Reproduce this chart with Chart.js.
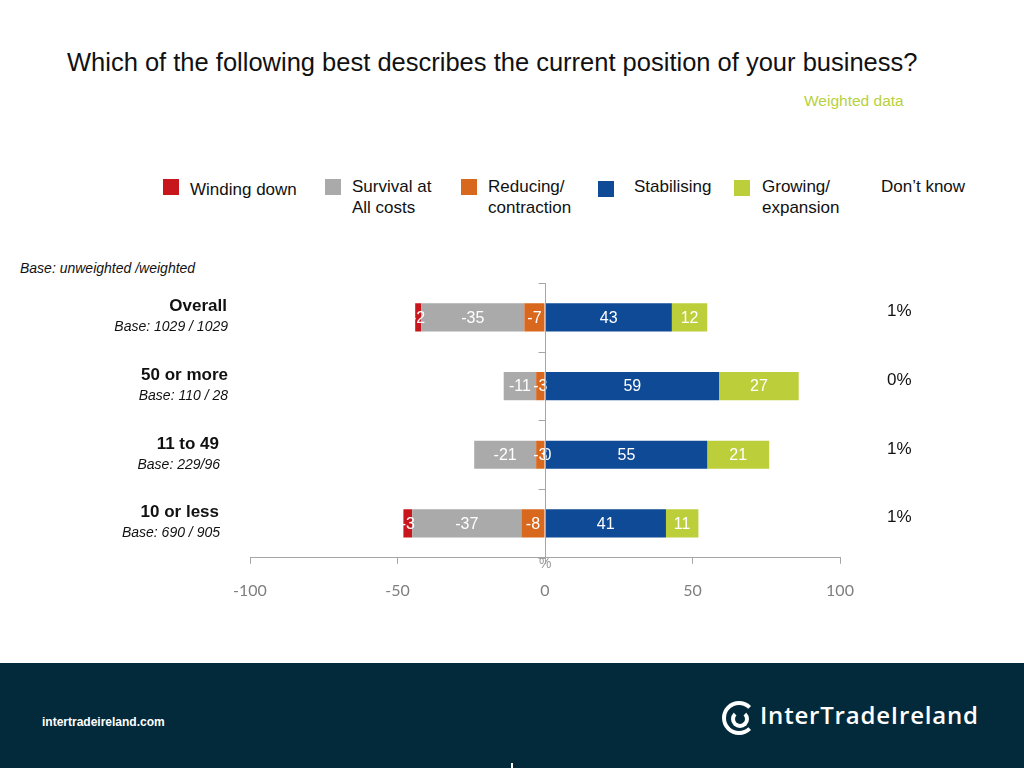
<!DOCTYPE html>
<html><head><meta charset="utf-8">
<script src="https://cdn.jsdelivr.net/npm/chart.js@4.4.1/dist/chart.umd.min.js"></script>
<style>
body{margin:0;width:1024px;height:768px;position:relative;overflow:hidden;background:#fff;font-family:'Liberation Sans',Arial,sans-serif;color:#111;}
.abs{position:absolute;white-space:nowrap;}
#wrap{position:absolute;left:0;top:0;width:1024px;height:660px;}
.lg{position:absolute;font-size:17px;line-height:21px;color:#111;}
.box{position:absolute;width:16px;height:16px;}
.nm{font-weight:bold;font-size:17px;line-height:20px;transform:translateY(-50%);}
.bs{font-style:italic;font-size:14px;line-height:17px;transform:translateY(-50%);}
.dk{font-size:17px;line-height:20px;transform:translateY(-50%);}
#footer{position:absolute;left:0;top:663px;width:1024px;height:105px;background:#032a3a;}
</style></head><body>
<div class="abs" style="left:67px;top:47px;font-size:25.5px;line-height:30px;">Which of the following best describes the current position of your business?</div>
<div class="abs" style="left:804px;top:91px;font-size:15.5px;line-height:19px;color:#b8d13c;">Weighted data</div>

<div id="legend"></div>

<div class="abs" style="left:20px;top:260px;font-size:14px;line-height:17px;font-style:italic;">Base: unweighted /weighted</div>

<div id="wrap"><canvas id="c" width="1024" height="660"></canvas></div>
<div id="labels"></div>
<div class="abs" style="left:539px;top:555px;font-size:14px;line-height:16px;color:#9a9a9a;">%</div>

<div id="footer">
  <div class="abs" style="left:42px;top:52px;font-size:12px;line-height:14px;color:#fff;font-weight:bold;">intertradeireland.com</div>
  <div class="abs" style="left:722px;top:38px;width:26px;height:26px;border:4px solid #fff;border-right-color:transparent;border-radius:50%;"></div>
  <div class="abs" style="left:731px;top:47px;width:10px;height:10px;border:4px solid #fff;border-top-color:transparent;border-radius:50%;"></div>
  <div class="abs" style="left:760px;top:37px;font-family:'Open Sans',sans-serif;font-weight:600;font-size:24px;line-height:30px;color:#fff;letter-spacing:0.8px;">InterTradeIreland</div>
  <div class="abs" style="left:511px;top:100px;width:2px;height:5px;background:#fff;"></div>
</div>

<script>
// ---- data ----
const categories = ['Overall', '50 or more', '11 to 49', '10 or less'];
const baseLabels = ['Base: 1029 / 1029', 'Base: 110 / 28', 'Base: 229/96', 'Base: 690 / 905'];
const windingDown = [-2, null, 0, -3];
const survival = [-35, -11, -21, -37];
const reducing = [-7, -3, -3, -8];
const stabilising = [43, 59, 55, 41];
const growing = [12, 27, 21, 11];
const dontKnow = ['1%', '0%', '1%', '1%'];
const xTickValues = [-100, -50, 0, 50, 100];
const legendNames = ['Winding down', 'Survival at<br>All costs', 'Reducing/<br>contraction', 'Stabilising', 'Growing/<br>expansion', 'Don\u2019t know'];

// ---- styles ----
const colors = {wind:'#c8161d', surv:'#aaaaaa', red:'#d9681f', stab:'#0e4a96', grow:'#bccf3a'};
const legendLayout = [
  {box:[163,179], text:[190,179], color:colors.wind},
  {box:[325,179], text:[352,176], color:colors.surv},
  {box:[461,179], text:[488,176], color:colors.red},
  {box:[598,181], text:[634,176], color:colors.stab},
  {box:[734,180], text:[762,176], color:colors.grow},
  {box:null, text:[881,176], color:null}
];
const nameRight = [227, 228, 219, 219];
const baseRight = [228, 228, 220, 220];

// legend
const lg = document.getElementById('legend');
legendLayout.forEach((l, i) => {
  if (l.box) {
    const b = document.createElement('div');
    b.className = 'box'; b.style.left = l.box[0] + 'px'; b.style.top = l.box[1] + 'px'; b.style.background = l.color;
    lg.appendChild(b);
  }
  const t = document.createElement('div');
  t.className = 'lg'; t.style.left = l.text[0] + 'px'; t.style.top = l.text[1] + 'px';
  t.innerHTML = legendNames[i];
  lg.appendChild(t);
});

const axisColor = '#a6a6a6';
const yAxisPlugin = {
  id: 'yAxisLine',
  afterDatasetsDraw(chart) {
    const {ctx, chartArea, scales} = chart;
    const x0 = Math.round(scales.x.getPixelForValue(0)) + 0.5;
    ctx.save();
    ctx.strokeStyle = axisColor; ctx.lineWidth = 1;
    ctx.beginPath();
    ctx.moveTo(x0, chartArea.top); ctx.lineTo(x0, chartArea.bottom + 6);
    const n = categories.length;
    for (let i = 0; i <= n; i++) {
      const y = Math.round(chartArea.top + i * (chartArea.bottom - chartArea.top) / n) + 0.5;
      ctx.moveTo(x0 - 7, y); ctx.lineTo(x0, y);
    }
    ctx.stroke();
    ctx.restore();
  }
};
const barLabelPlugin = {
  id: 'barLabels',
  afterDatasetsDraw(chart) {
    const {ctx, scales} = chart;
    ctx.save();
    ctx.font = '16px "Liberation Sans", Arial, sans-serif';
    ctx.fillStyle = '#ffffff';
    ctx.textAlign = 'center'; ctx.textBaseline = 'middle';
    chart.data.datasets.forEach((ds, di) => {
      const meta = chart.getDatasetMeta(di);
      meta.data.forEach((el, i) => {
        const v = ds.data[i];
        if (v === null || v === undefined) return;
        let cx = (el.x + el.base) / 2;
        if (v === 0) cx = scales.x.getPixelForValue(0) + 2;
        ctx.fillText(String(v), cx, el.y + 1);
      });
    });
    ctx.restore();
  }
};

const chart = new Chart(document.getElementById('c'), {
  type: 'bar',
  data: {
    labels: categories,
    datasets: [
      {label:'Reducing/ contraction', data: reducing, backgroundColor: colors.red},
      {label:'Survival at All costs', data: survival, backgroundColor: colors.surv},
      {label:'Winding down', data: windingDown, backgroundColor: colors.wind},
      {label:'Stabilising', data: stabilising, backgroundColor: colors.stab},
      {label:'Growing/ expansion', data: growing, backgroundColor: colors.grow}
    ]
  },
  options: {
    indexAxis: 'y',
    responsive: false,
    animation: false,
    devicePixelRatio: 1,
    layout: {padding: {left: 250, right: 184, top: 283, bottom: 43}},
    datasets: {bar: {barPercentage: 1, categoryPercentage: 0.41, borderWidth: 0}},
    plugins: {legend: {display: false}, tooltip: {enabled: false}},
    scales: {
      x: {
        stacked: true, min: -100, max: 100,
        afterBuildTicks(axis) { axis.ticks = xTickValues.map(v => ({value: v})); },
        grid: {drawOnChartArea: false, drawTicks: true, tickLength: 6, color: axisColor},
        border: {display: true, color: axisColor},
        ticks: {padding: 17, color: '#7f7f7f', font: {family: 'Lato, "Open Sans", sans-serif', size: 16}}
      },
      y: {stacked: true, display: false}
    }
  },
  plugins: [barLabelPlugin, yAxisPlugin]
});

// category labels positioned from the y scale
const labelsDiv = document.getElementById('labels');
categories.forEach((c, i) => {
  const yc = chart.scales.y.getPixelForValue(i);
  const n = document.createElement('div');
  n.className = 'abs nm'; n.style.right = (1024 - nameRight[i]) + 'px'; n.style.top = (yc - 11) + 'px';
  n.textContent = c; labelsDiv.appendChild(n);
  const b = document.createElement('div');
  b.className = 'abs bs'; b.style.right = (1024 - baseRight[i]) + 'px'; b.style.top = (yc + 9) + 'px';
  b.textContent = baseLabels[i]; labelsDiv.appendChild(b);
  const d = document.createElement('div');
  d.className = 'abs dk'; d.style.left = '887px'; d.style.top = (yc - 6) + 'px';
  d.textContent = dontKnow[i]; labelsDiv.appendChild(d);
});
</script>
</body></html>
